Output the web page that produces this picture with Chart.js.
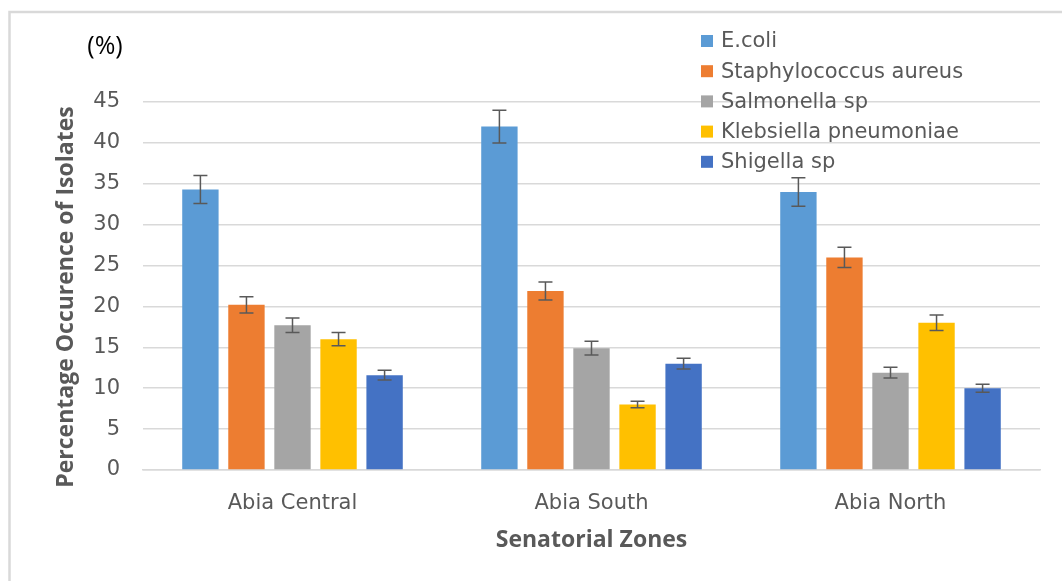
<!DOCTYPE html>
<html>
<head>
<meta charset="utf-8">
<script src="https://cdn.jsdelivr.net/npm/chart.js@4.4.1/dist/chart.umd.min.js"></script>
<style>
  html, body { margin: 0; padding: 0; background: #fff; }
  #wrap { width: 1062px; height: 581px; }
</style>
</head>
<body>
<div id="wrap"><canvas id="chart" width="1062" height="581"></canvas></div>
<script>
const zones = ['Abia Central', 'Abia South', 'Abia North'];
const yTicks = [0, 5, 10, 15, 20, 25, 30, 35, 40, 45];

const ecoli = [34.3, 42.0, 34.0];
const ecoliErr = [1.7, 2.0, 1.75];
const staph = [20.2, 21.9, 26.0];
const staphErr = [1.0, 1.1, 1.25];
const salmonella = [17.7, 14.9, 11.9];
const salmonellaErr = [0.9, 0.85, 0.65];
const klebsiella = [16.0, 8.0, 18.0];
const klebsiellaErr = [0.8, 0.4, 0.95];
const shigella = [11.6, 13.0, 10.0];
const shigellaErr = [0.6, 0.65, 0.5];

const GREY_TEXT = '#595959';
const GRID = '#D9D9D9';

function series(label, data, errors, color) {
  return { label, data, errors, backgroundColor: color, borderWidth: 0,
    categoryPercentage: 0.77, barPercentage: 0.79 };
}

// error bars drawn through the y scale
const errorBars = {
  id: 'errorBars',
  afterDatasetsDraw(chart) {
    const { ctx, scales: { y } } = chart;
    ctx.save();
    ctx.strokeStyle = GREY_TEXT;
    ctx.lineWidth = 1.5;
    chart.data.datasets.forEach((ds, i) => {
      chart.getDatasetMeta(i).data.forEach((bar, j) => {
        const v = ds.data[j], e = ds.errors[j];
        const top = y.getPixelForValue(v + e);
        const bot = y.getPixelForValue(v - e);
        ctx.beginPath();
        ctx.moveTo(bar.x, top); ctx.lineTo(bar.x, bot);
        ctx.moveTo(bar.x - 7, top); ctx.lineTo(bar.x + 7, top);
        ctx.moveTo(bar.x - 7, bot); ctx.lineTo(bar.x + 7, bot);
        ctx.stroke();
      });
    });
    ctx.restore();
  },
};

// frame, unit label, y title and the overlaid legend
const decorations = {
  id: 'decorations',
  beforeDraw(chart) {
    const { ctx } = chart;
    ctx.save();
    ctx.strokeStyle = GRID;
    ctx.lineWidth = 2.5;
    ctx.beginPath();
    ctx.moveTo(9.5, 581); ctx.lineTo(9.5, 12); ctx.lineTo(1062, 12);
    ctx.stroke();
    ctx.restore();
  },
  afterDraw(chart) {
    const { ctx } = chart;
    ctx.save();
    ctx.fillStyle = '#000';
    ctx.font = '25px "Open Sans"';
    ctx.textAlign = 'center';
    ctx.textBaseline = 'middle';
    ctx.fillText('(%)', 105, 47);

    ctx.translate(66, 297);
    ctx.rotate(-Math.PI / 2);
    ctx.fillStyle = GREY_TEXT;
    ctx.font = 'bold 23px "Open Sans"';
    ctx.fillText('Percentage Occurence of Isolates', 0, 0);
    ctx.restore();

    ctx.save();
    ctx.font = '21px "DejaVu Sans"';
    ctx.textBaseline = 'middle';
    chart.data.datasets.forEach((ds, i) => {
      const cy = 41 + i * 30.2;
      ctx.fillStyle = ds.backgroundColor;
      ctx.fillRect(701, cy - 6, 12, 12);
      ctx.fillStyle = GREY_TEXT;
      ctx.fillText(ds.label, 721, cy + 1);
    });
    ctx.restore();
  },
};

new Chart(document.getElementById('chart'), {
  type: 'bar',
  data: {
    labels: zones,
    datasets: [
      series('E.coli', ecoli, ecoliErr, '#5B9BD5'),
      series('Staphylococcus aureus', staph, staphErr, '#ED7D31'),
      series('Salmonella sp', salmonella, salmonellaErr, '#A5A5A5'),
      series('Klebsiella pneumoniae', klebsiella, klebsiellaErr, '#FFC000'),
      series('Shigella sp', shigella, shigellaErr, '#4472C4'),
    ],
  },
  options: {
    responsive: false,
    animation: false,
    layout: { padding: { top: 102, right: 22, left: 0, bottom: 0 } },
    plugins: { legend: { display: false }, tooltip: { enabled: false } },
    scales: {
      x: {
        grid: { display: false },
        border: { display: true, color: GRID, width: 1.5 },
        ticks: { color: GREY_TEXT, font: { family: 'DejaVu Sans', size: 21 }, padding: 13 },
        title: {
          display: true, text: 'Senatorial Zones', color: GREY_TEXT,
          font: { family: 'Open Sans', size: 23, weight: 'bold' },
          padding: { top: 0, bottom: 27 },
        },
        afterFit(scale) { scale.height = 111; },
      },
      y: {
        min: 0,
        max: 45,
        afterBuildTicks(scale) { scale.ticks = yTicks.map((v) => ({ value: v })); },
        grid: { color: GRID, lineWidth: 1.5, drawTicks: false },
        border: { display: false },
        ticks: { color: GREY_TEXT, font: { family: 'DejaVu Sans', size: 21 }, padding: 23 },
        afterFit(scale) { scale.width = 143; },
      },
    },
  },
  plugins: [errorBars, decorations],
});
</script>
</body>
</html>
